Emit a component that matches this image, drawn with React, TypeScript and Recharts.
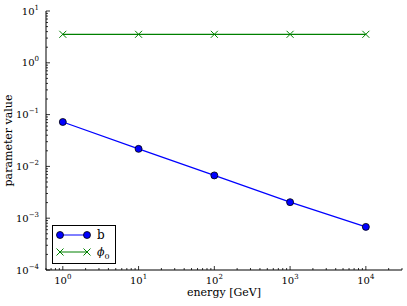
import React from 'react';
import { LineChart, Line, XAxis, YAxis, Legend } from 'recharts';

const energies = [1, 10, 100, 1000, 10000];
const bValues = [0.072, 0.0218, 0.0067, 0.00204, 0.00068];
const phi0Values = [3.55, 3.55, 3.55, 3.55, 3.55];
const xDomain = [0.6, 30000];
const yDomain = [1e-4, 10];
const xLabel = 'energy [GeV]';
const yLabel = 'parameter value';

const data = energies.map((e, i) => ({ energy: e, b: bValues[i], phi0: phi0Values[i] }));

const FONT = '"DejaVu Serif", serif';
const BLUE = '#0000ff';
const GREEN = '#008000';

function logTicks(lo: number, hi: number): number[] {
  const out: number[] = [];
  for (let k = Math.floor(Math.log10(lo)); k <= Math.ceil(Math.log10(hi)); k++) {
    for (let m = 1; m < 10; m++) {
      const v = m * Math.pow(10, k);
      if (v >= lo * 0.999999 && v <= hi * 1.000001) out.push(v);
    }
  }
  return out;
}
const isMajor = (v: number) => Math.abs(Math.log10(v) - Math.round(Math.log10(v))) < 1e-6;
const expOf = (v: number) => {
  const e = Math.round(Math.log10(v));
  return e < 0 ? '\u2212' + Math.abs(e) : String(e);
};

const xTicks = logTicks(xDomain[0], xDomain[1]);
const yTicks = logTicks(yDomain[0], yDomain[1]);

const MAJ = 4;
const MIN = 2;

const BottomTick = (props: any) => {
  const { x, y, payload } = props;
  const v = payload.value;
  const major = isMajor(v);
  return (
    <g>
      <line x1={x} x2={x} y1={y} y2={y - (major ? MAJ : MIN)} stroke="#000" strokeWidth={0.8} />
      {major && (
        <text x={x} y={y + 13.5} textAnchor="middle" fontSize={10} fontFamily={FONT} fill="#000">
          10<tspan dy={-5} fontSize={7}>{expOf(v)}</tspan>
        </text>
      )}
    </g>
  );
};
const TopTick = (props: any) => {
  const { x, y, payload } = props;
  const major = isMajor(payload.value);
  return <line x1={x} x2={x} y1={y} y2={y + (major ? MAJ : MIN)} stroke="#000" strokeWidth={0.8} />;
};
const LeftTick = (props: any) => {
  const { x, y, payload } = props;
  const v = payload.value;
  const major = isMajor(v);
  return (
    <g>
      <line x1={x} x2={x + (major ? MAJ : MIN)} y1={y} y2={y} stroke="#000" strokeWidth={0.8} />
      {major && (
        <text x={x - 7} y={y + 3.5} textAnchor="end" fontSize={10} fontFamily={FONT} fill="#000">
          10<tspan dy={-5} fontSize={7}>{expOf(v)}</tspan>
        </text>
      )}
    </g>
  );
};
const RightTick = (props: any) => {
  const { x, y, payload } = props;
  const major = isMajor(payload.value);
  return <line x1={x} x2={x - (major ? MAJ : MIN)} y1={y} y2={y} stroke="#000" strokeWidth={0.8} />;
};

const XMarker = (p: any) => {
  const { cx, cy, index } = p;
  const s = 3.5;
  return (
    <path
      key={'x' + index}
      d={`M${cx - s},${cy - s}L${cx + s},${cy + s}M${cx - s},${cy + s}L${cx + s},${cy - s}`}
      stroke={GREEN}
      strokeWidth={1}
      fill="none"
    />
  );
};

const LegendBox = () => (
  <svg width={64} height={39} style={{ display: 'block' }}>
    <rect x={0.5} y={0.5} width={63} height={38} fill="#fff" stroke="#000" strokeWidth={1} />
    <line x1={8} x2={35} y1={10} y2={10} stroke={BLUE} strokeWidth={1} />
    <circle cx={8} cy={10} r={3.5} fill={BLUE} stroke="#000" strokeWidth={0.8} />
    <circle cx={35} cy={10} r={3.5} fill={BLUE} stroke="#000" strokeWidth={0.8} />
    <text x={45} y={14} fontSize={12} fontFamily={FONT} fill="#000">b</text>
    <line x1={8} x2={35} y1={27} y2={27} stroke={GREEN} strokeWidth={1} />
    <path d="M4.5,23.5L11.5,30.5M4.5,30.5L11.5,23.5M31.5,23.5L38.5,30.5M31.5,30.5L38.5,23.5" stroke={GREEN} strokeWidth={1} />
    <text x={45} y={31} fontSize={11} fontFamily={FONT} fontStyle="italic" fill="#000">
      ϕ<tspan dy={3} fontSize={8} fontStyle="normal">0</tspan>
    </text>
  </svg>
);

const XLabel = (props: any) => {
  const vb = props.viewBox || {};
  return (
    <text x={vb.x + vb.width / 2} y={vb.y + 26} textAnchor="middle" fontSize={11} fontFamily={FONT} fill="#000">
      {xLabel}
    </text>
  );
};
const YLabel = (props: any) => {
  const vb = props.viewBox || {};
  const cx = vb.x + 8;
  const cy = vb.y + vb.height / 2;
  return (
    <text x={cx} y={cy} transform={`rotate(-90 ${cx} ${cy})`} textAnchor="middle" dominantBaseline="central" fontSize={11} fontFamily={FONT} fill="#000">
      {yLabel}
    </text>
  );
};

export default function App() {
  return (
    <div style={{ position: 'absolute', left: 0, top: 0, width: 407, height: 306, background: '#fff' }}>
      <LineChart width={407} height={306} data={data} margin={{ top: 11, right: 5, bottom: 0, left: 0 }}>
        <XAxis
          xAxisId="b"
          dataKey="energy"
          type="number"
          scale="log"
          domain={xDomain}
          allowDataOverflow
          ticks={xTicks}
          interval={0}
          tick={BottomTick}
          tickLine={false}
          tickSize={0}
          tickMargin={0}
          height={36}
          axisLine={{ stroke: '#000', strokeWidth: 1 }}
          label={<XLabel />}
        />
        <XAxis
          xAxisId="t"
          orientation="top"
          dataKey="energy"
          type="number"
          scale="log"
          domain={xDomain}
          allowDataOverflow
          ticks={xTicks}
          interval={0}
          tick={TopTick}
          tickLine={false}
          tickSize={0}
          tickMargin={0}
          height={0}
          axisLine={{ stroke: '#000', strokeWidth: 1 }}
        />
        <YAxis
          yAxisId="l"
          type="number"
          scale="log"
          domain={yDomain}
          allowDataOverflow
          ticks={yTicks}
          interval={0}
          tick={LeftTick}
          tickLine={false}
          tickSize={0}
          tickMargin={0}
          width={46}
          axisLine={{ stroke: '#000', strokeWidth: 1 }}
          label={<YLabel />}
        />
        <YAxis
          yAxisId="r"
          orientation="right"
          type="number"
          scale="log"
          domain={yDomain}
          allowDataOverflow
          ticks={yTicks}
          interval={0}
          tick={RightTick}
          tickLine={false}
          tickSize={0}
          tickMargin={0}
          width={0}
          axisLine={{ stroke: '#000', strokeWidth: 1 }}
        />
        <Line
          xAxisId="b"
          yAxisId="l"
          dataKey="b"
          name="b"
          stroke={BLUE}
          strokeWidth={1.2}
          dot={{ r: 3.5, fill: BLUE, stroke: '#000', strokeWidth: 0.8 }}
          isAnimationActive={false}
        />
        <Line
          xAxisId="b"
          yAxisId="l"
          dataKey="phi0"
          name="phi0"
          stroke={GREEN}
          strokeWidth={1.2}
          dot={XMarker}
          isAnimationActive={false}
        />
        <Legend
          layout="vertical"
          align="center"
          verticalAlign="middle"
          wrapperStyle={{ left: 52, top: 225, width: 64, height: 39 }}
          content={<LegendBox />}
        />
      </LineChart>
    </div>
  );
}
